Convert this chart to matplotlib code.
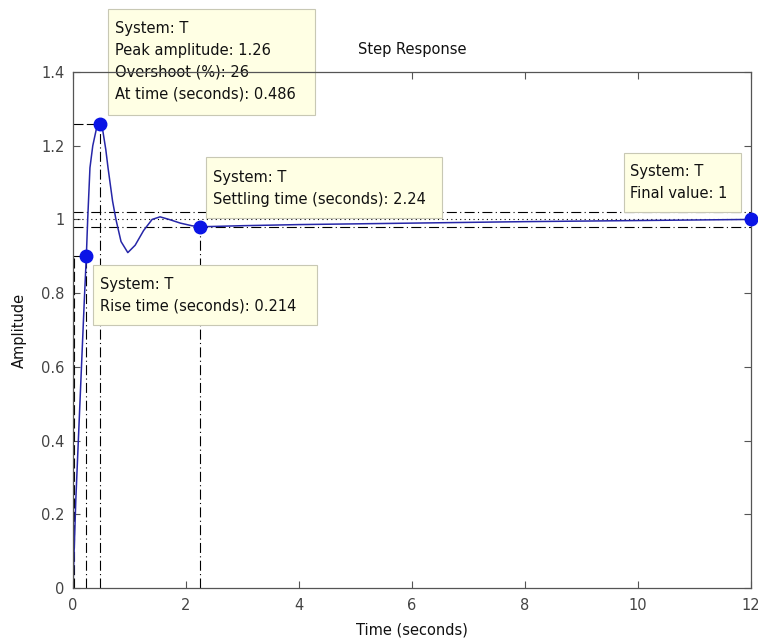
import matplotlib as mpl
import numpy as np

mpl.use('agg')

import matplotlib.pyplot as plt
from matplotlib.patches import Rectangle

# step response of T
t = [0, 0.02, 0.05, 0.1, 0.15, 0.2, 0.236, 0.26, 0.3, 0.35, 0.42, 0.486,
     0.52, 0.58, 0.62, 0.7, 0.76, 0.85, 0.97, 1.1, 1.25, 1.4, 1.54, 1.7, 1.9,
     2.1, 2.24, 3, 4, 6, 8, 10, 12]
amp = [0, 0.10, 0.24, 0.42, 0.6, 0.78, 0.90, 1.0, 1.14, 1.20, 1.25, 1.26,
       1.248, 1.19, 1.14, 1.05, 1.0, 0.94, 0.91, 0.93, 0.97, 1.0, 1.007, 1.0, 0.99,
       0.983, 0.98, 0.983, 0.986, 0.99, 0.994, 0.997, 1.0]

peak_t, peak_amp, overshoot = 0.486, 1.26, 26
rise_t10, rise_t90, rise_time = 0.022, 0.236, 0.214
settle_t, settle_amp = 2.24, 0.98
final_t, final_value = 12, 1

xticks = [0, 2, 4, 6, 8, 10, 12]
yticks = [0, 0.2, 0.4, 0.6, 0.8, 1, 1.2, 1.4]
yticklabels = ['0', '0.2', '0.4', '0.6', '0.8', '1', '1.2', '1.4']

tip_texts = [
    ['System: T', 'Peak amplitude: %.2f' % peak_amp, 'Overshoot (%%): %d' % overshoot,
     'At time (seconds): %.3f' % peak_t],
    ['System: T', 'Settling time (seconds): %.2f' % settle_t],
    ['System: T', 'Rise time (seconds): %.3f' % rise_time],
    ['System: T', 'Final value: %d' % final_value],
]
# box (x0, x1, y0, y1) and first text line (x, y), in data units
tip_boxes = [(0.619, 4.283, 1.283, 1.571), (2.354, 6.531, 1.004, 1.169),
             (0.354, 4.319, 0.714, 0.876), (9.752, 11.823, 1.020, 1.180)]
tip_starts = [(0.743, 1.519), (2.478, 1.115), (0.478, 0.824), (9.858, 1.129)]
line_step = 0.06

plt.rcParams['font.family'] = ['DejaVu Sans']

fig = plt.figure(figsize=(7.58, 6.42), dpi=100)
ax = fig.add_axes([73 / 758, 1 - 588 / 642, 678 / 758, 516 / 642])

blue = '#2626a8'
ref = dict(color='black', lw=0.8)
dashdot = (0, (9, 3, 1, 3))

# settling band and final value
ax.axhline(final_value * 1.02, ls=dashdot, **ref)
ax.axhline(final_value * 0.98, ls=dashdot, **ref)
ax.axhline(final_value, ls=(0, (1, 3)), **ref)
ax.plot([settle_t, settle_t], [0, settle_amp], ls=dashdot, **ref)

# peak
ax.plot([0, peak_t], [peak_amp, peak_amp], ls=(0, (9, 3)), **ref)
ax.plot([peak_t, peak_t], [0, peak_amp], ls=dashdot, **ref)

# rise time
ax.plot([0, rise_t90], [0.9, 0.9], ls=(0, (9, 3)), **ref)
ax.plot([rise_t10, rise_t10], [0, 0.9], ls=(0, (9, 3)), **ref)
ax.plot([rise_t90, rise_t90], [0, 0.9], ls=dashdot, **ref)

ax.plot(t, amp, color=blue, lw=1.1, zorder=2.1)

ax.plot([rise_t90, peak_t, settle_t, final_t], [0.9, peak_amp, settle_amp, final_value],
        'o', color='#0a14e6', ms=9, zorder=3, clip_on=False)

for lines, (x0, x1, y0, y1), (tx, ty) in zip(tip_texts, tip_boxes, tip_starts):
    ax.add_patch(Rectangle((x0, y0), x1 - x0, y1 - y0, fc='#ffffe4', ec='#c8c8b4',
                           lw=0.8, zorder=2.2, clip_on=False))
    for i, line in enumerate(lines):
        ax.text(tx, ty - i * line_step, line, va='center', ha='left', fontsize=10.5,
                color='#111111', zorder=2.3, clip_on=False)

ax.set_xlim(0, 12)
ax.set_ylim(0, 1.4)
ax.set_xticks(xticks)
ax.set_yticks(yticks)
ax.set_yticklabels(yticklabels)
ax.tick_params(direction='in', length=5, width=0.8, top=True, right=True,
               color='#555555', labelcolor='#444444', labelsize=10.5)
ax.tick_params(axis='x', pad=7)
ax.tick_params(axis='y', pad=6)
for s in ax.spines.values():
    s.set_color('#555555')
    s.set_linewidth(0.9)

ax.set_title('Step Response', fontsize=10.5, pad=13, color='#111111')
ax.set_xlabel('Time (seconds)', fontsize=10.5, labelpad=7, color='#111111')
ax.set_ylabel('Amplitude', fontsize=10.5, labelpad=10, color='#111111')

fig.savefig('out.png', dpi=100)
